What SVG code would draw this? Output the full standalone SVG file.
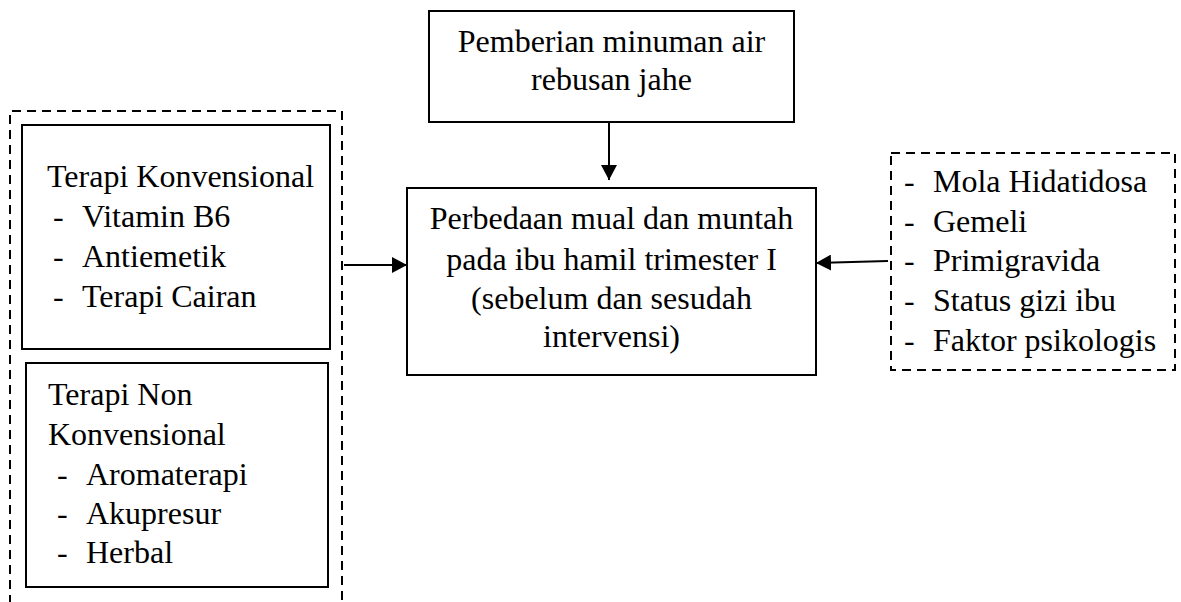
<svg xmlns="http://www.w3.org/2000/svg" width="1181" height="602" viewBox="0 0 1181 602">
<defs>
<style>
.box{fill:#fff;stroke:#000;stroke-width:2}
.dash{fill:none;stroke:#000;stroke-width:2;stroke-dasharray:9,6}
.t{font-family:"Liberation Serif","Times New Roman",serif;font-size:32px;fill:#000}
.c{text-anchor:middle}
.line{stroke:#000;stroke-width:2;fill:none}
</style>
<marker id="ah" markerWidth="16" markerHeight="16" refX="15" refY="8" orient="auto" markerUnits="userSpaceOnUse">
<path d="M0,0 L15,8 L0,16 Z" fill="#000"/>
</marker>
</defs>
<rect width="1181" height="602" fill="#fff"/>
<g id="left-group">
<path class="dash" d="M10,604 V111 H342 V604"/>
</g>
<g id="node-konvensional">
<rect class="box" x="22" y="125" width="308" height="224"/>
<text class="t" x="47" y="187">Terapi Konvensional</text>
<text class="t" x="53" y="227">-</text><text class="t" x="82" y="227">Vitamin B6</text>
<text class="t" x="53" y="267">-</text><text class="t" x="82" y="267">Antiemetik</text>
<text class="t" x="53" y="307">-</text><text class="t" x="82" y="307">Terapi Cairan</text>
</g>
<g id="node-nonkonvensional">
<rect class="box" x="26" y="363" width="302" height="224"/>
<text class="t" x="48" y="405">Terapi Non</text>
<text class="t" x="48" y="445">Konvensional</text>
<text class="t" x="57" y="485">-</text><text class="t" x="86" y="485">Aromaterapi</text>
<text class="t" x="57" y="524">-</text><text class="t" x="86" y="524">Akupresur</text>
<text class="t" x="57" y="563">-</text><text class="t" x="86" y="563">Herbal</text>
</g>
<g id="node-jahe">
<rect class="box" x="429" y="11" width="365" height="111"/>
<text class="t c" x="611.5" y="52">Pemberian minuman air</text>
<text class="t c" x="611.5" y="90">rebusan jahe</text>
</g>
<g id="node-perbedaan">
<rect class="box" x="407" y="188" width="409" height="187"/>
<text class="t c" x="611.5" y="229">Perbedaan mual dan muntah</text>
<text class="t c" x="611.5" y="270">pada ibu hamil trimester I</text>
<text class="t c" x="611.5" y="309">(sebelum dan sesudah</text>
<text class="t c" x="611.5" y="347">intervensi)</text>
</g>
<g id="node-faktor">
<rect class="dash" x="891" y="153" width="284" height="217"/>
<text class="t" x="904" y="192">-</text><text class="t" x="933" y="192">Mola Hidatidosa</text>
<text class="t" x="904" y="232">-</text><text class="t" x="933" y="232">Gemeli</text>
<text class="t" x="904" y="271">-</text><text class="t" x="933" y="271">Primigravida</text>
<text class="t" x="904" y="311">-</text><text class="t" x="933" y="311">Status gizi ibu</text>
<text class="t" x="904" y="351">-</text><text class="t" x="933" y="351">Faktor psikologis</text>
</g>
<g id="connectors">
<line class="line" x1="609" y1="122" x2="609" y2="180" marker-end="url(#ah)"/>
<line class="line" x1="344" y1="265" x2="407" y2="265" marker-end="url(#ah)"/>
<line class="line" x1="888" y1="261" x2="816" y2="263" marker-end="url(#ah)"/>
</g>
</svg>
